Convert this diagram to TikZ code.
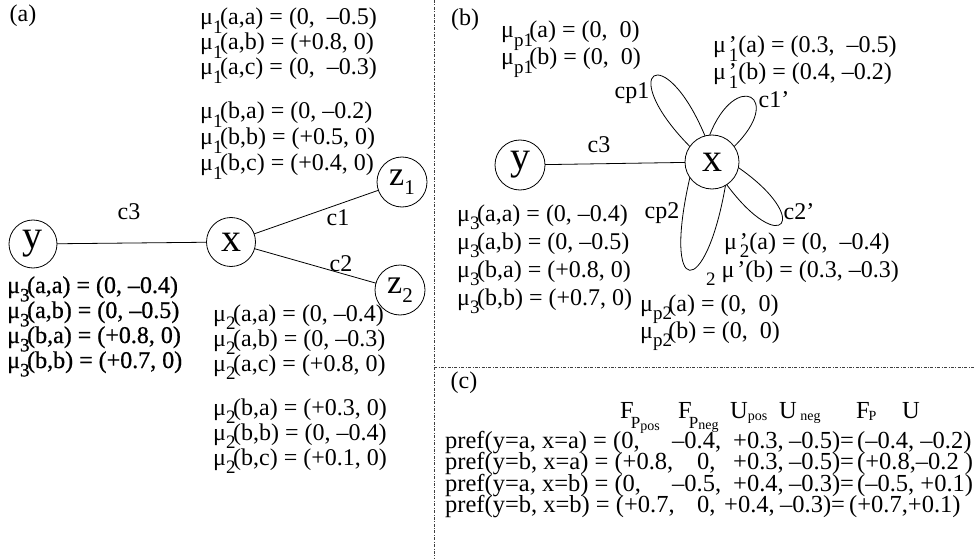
\documentclass[tikz,border=0pt]{standalone}
\usepackage{fontspec}
\setmainfont{Liberation Serif}
\newfontfamily\heavy[FakeBold=0.7]{Liberation Serif}
\newcommand\lo[1]{\raisebox{-0.35em}{\fontsize{19}{19}\selectfont #1}}
\newcommand\mub{μ\kern0.12em\rlap{’}}
\begin{document}
\begin{tikzpicture}[x=1pt,y=-1pt,
  circ/.style={draw,circle,inner sep=0pt,outer sep=0pt,line width=0.8pt},
  big/.style={font=\fontsize{40}{40}\selectfont},
  txt/.style={anchor=base west,inner sep=0pt,font=\fontsize{24}{28}\selectfont},
  lbl/.style={inner sep=0pt,font=\fontsize{24}{28}\selectfont},
  ctxt/.style={anchor=base west,inner sep=0pt,font=\fontsize{24.5}{26}\selectfont},
  conn/.style={line width=0.8pt},
  sep/.style={dash pattern=on 3pt off 1.5pt on 0.8pt off 1.5pt,line width=0.6pt,black!75}]
\useasboundingbox (0,0) rectangle (975,559);
% separators
\coordinate (vt) at (434,0); \coordinate (vb) at (434,559);
\coordinate (hl) at (434,367); \coordinate (hr) at (975,367);
\draw[sep] (vt) -- (vb);
\draw[sep] (hl) -- (hr);
% ---------------- panel (a)
\node[lbl] (la) at (23,16) {(a)};
\node[circ,minimum size=48pt,big] (ya) at (33,244) {y};
\node[circ,minimum size=49pt,big] (xa) at (231,242) {x};
\node[circ,minimum size=50pt,font=\fontsize{34}{34}\selectfont] (z1) at (402,182) {z\raisebox{-0.25em}{\fontsize{21}{21}\selectfont 1}};
\node[circ,minimum size=50pt,font=\fontsize{34}{34}\selectfont] (z2) at (400,290) {z\raisebox{-0.25em}{\fontsize{21}{21}\selectfont 2}};
\draw[conn] (ya) -- (xa);
\draw[conn] (xa) -- (z1);
\draw[conn] (xa) -- (z2);
\node[lbl] (c3a) at (129,212) {c3};
\node[lbl] (c1a) at (338,218) {c1};
\node[lbl] (c2a) at (341,264) {c2};
% mu1
\node[txt] (m1a) at (200,25) {μ\lo{1}\kern-0.1em(a,a) = (0,\ \ –0.5)};
\node[txt] (m1b) at (200,50) {μ\lo{1}\kern-0.1em(a,b) = (+0.8, 0)};
\node[txt] (m1c) at (200,75) {μ\lo{1}\kern-0.1em(a,c) = (0,\ \ –0.3)};
\node[txt] (m1d) at (200,119) {μ\lo{1}\kern-0.1em(b,a) = (0, –0.2)};
\node[txt] (m1e) at (200,145) {μ\lo{1}\kern-0.1em(b,b) = (+0.5, 0)};
\node[txt] (m1f) at (200,171) {μ\lo{1}\kern-0.1em(b,c) = (+0.4, 0)};
% mu3 (a)
\node[txt,font=\fontsize{24}{28}\heavy] (m3a) at (7,293) {μ\lo{3}\kern-0.1em(a,a) = (0, –0.4)};
\node[txt,font=\fontsize{24}{28}\heavy] (m3b) at (7,318) {μ\lo{3}\kern-0.1em(a,b) = (0, –0.5)};
\node[txt,font=\fontsize{24}{28}\heavy] (m3c) at (7,343) {μ\lo{3}\kern-0.1em(b,a) = (+0.8, 0)};
\node[txt,font=\fontsize{24}{28}\heavy] (m3d) at (7,368) {μ\lo{3}\kern-0.1em(b,b) = (+0.7, 0)};
% mu2
\node[txt] (m2a) at (213,321) {μ\lo{2}\kern-0.1em(a,a) = (0, –0.4)};
\node[txt] (m2b) at (213,346) {μ\lo{2}\kern-0.1em(a,b) = (0, –0.3)};
\node[txt] (m2c) at (213,371) {μ\lo{2}\kern-0.1em(a,c) = (+0.8, 0)};
\node[txt] (m2d) at (213,415) {μ\lo{2}\kern-0.1em(b,a) = (+0.3, 0)};
\node[txt] (m2e) at (213,440) {μ\lo{2}\kern-0.1em(b,b) = (0, –0.4)};
\node[txt] (m2f) at (213,465) {μ\lo{2}\kern-0.1em(b,c) = (+0.1, 0)};
% ---------------- panel (b)
\node[lbl] (lb) at (465,20) {(b)};
\node[circ,minimum size=50pt,big] (yb) at (520,165) {y};
\node[circ,minimum size=54pt,big] (xb) at (712,162) {x};
\draw[conn] (yb) -- (xb);
\draw[conn] (xb.145) .. controls +(-75,-76) and +(-41,-98) .. (xb.105);
\draw[conn] (xb.95) .. controls +(26,-66) and +(51,-50) .. (xb.35);
\draw[conn] (xb.-12) .. controls +(75,52) and +(55,74) .. (xb.-57);
\draw[conn] (xb.215) .. controls +(-28,122) and +(-20,115) .. (xb.-60);
\node[lbl] (c3b) at (599,145) {c3};
\node[lbl] (cp1) at (632,93) {cp1};
\node[lbl] (c1p) at (774,100) {c1’};
\node[lbl] (c2p) at (799,212) {c2’};
\node[lbl] (cp2) at (662,213) {cp2};
\node[txt] (mp1a) at (501,38) {μ\lo{p1}\kern-0.15em(a) = (0,\ \ 0)};
\node[txt] (mp1b) at (501,65) {μ\lo{p1}\kern-0.15em(b) = (0,\ \ 0)};
\node[txt] (mq1a) at (713,53) {\mub\lo{1}(a) = (0.3,\ \ –0.5)};
\node[txt] (mq1b) at (713,80) {\mub\lo{1}(b) = (0.4, –0.2)};
\node[txt] (mb3a) at (457,221) {μ\lo{3}\kern-0.1em(a,a) = (0, –0.4)};
\node[txt] (mb3b) at (457,249) {μ\lo{3}\kern-0.1em(a,b) = (0, –0.5)};
\node[txt] (mb3c) at (457,277) {μ\lo{3}\kern-0.1em(b,a) = (+0.8, 0)};
\node[txt] (mb3d) at (457,305) {μ\lo{3}\kern-0.1em(b,b) = (+0.7, 0)};
\node[txt] (mq2a) at (724,249) {\mub\lo{2}(a) = (0,\ \ –0.4)};
\node[txt] (mq2b) at (706,277) {\lo{2}\ μ\kern0.12em’(b) = (0.3, –0.3)};
\node[txt] (mp2a) at (640,311) {μ\lo{p2}\kern-0.15em(a) = (0,\ \ 0)};
\node[txt] (mp2b) at (640,338) {μ\lo{p2}\kern-0.15em(b) = (0,\ \ 0)};
% ---------------- panel (c)
\node[lbl] (lc) at (464,383) {(c)};
\node[ctxt] (h1) at (620,418) {F\kern-0.12em\raisebox{-10pt}{\fontsize{17}{17}\selectfont P\raisebox{-2pt}{\fontsize{14}{14}\selectfont pos}}};
\node[ctxt] (h2) at (678,418) {F\kern-0.12em\raisebox{-10pt}{\fontsize{17}{17}\selectfont P\raisebox{-1pt}{\fontsize{14}{14}\selectfont neg}}};
\node[ctxt] (h3) at (730,418) {U\raisebox{-2pt}{\fontsize{14}{14}\selectfont pos}};
\node[ctxt] (h4) at (779,418) {U\raisebox{-2pt}{\fontsize{14}{14}\selectfont\ neg}};
\node[ctxt] (h5) at (856,418) {F\kern-0.05em\raisebox{-2pt}{\fontsize{14}{14}\selectfont P}};
\node[ctxt] (h6) at (902,418) {U};
% rows
\node[ctxt] (r1a) at (445,448) {pref(y=a, x=a) = (0,};
\node[ctxt] (r1b) at (672,448) {–0.4,};
\node[ctxt] (r1c) at (733,448) {+0.3,};
\node[ctxt] (r1d) at (789,448) {–0.5)=};
\node[ctxt] (r1e) at (857,448) {(–0.4, –0.2)};
\node[ctxt] (r2a) at (445,469.5) {pref(y=b, x=a) = (+0.8,};
\node[ctxt] (r2b) at (697,469.5) {0,};
\node[ctxt] (r2c) at (733,469.5) {+0.3,};
\node[ctxt] (r2d) at (789,469.5) {–0.5)=};
\node[ctxt] (r2e) at (857,469.5) {(+0.8,–0.2 )};
\node[ctxt] (r3a) at (445,491) {pref(y=a, x=b) = (0,};
\node[ctxt] (r3b) at (672,491) {–0.5,};
\node[ctxt] (r3c) at (733,491) {+0.4,};
\node[ctxt] (r3d) at (789,491) {–0.3)=};
\node[ctxt] (r3e) at (857,491) {(–0.5, +0.1)};
\node[ctxt] (r4a) at (445,512.5) {pref(y=b, x=b) = (+0.7,};
\node[ctxt] (r4b) at (697,512.5) {0,};
\node[ctxt] (r4c) at (724,512.5) {+0.4,};
\node[ctxt] (r4d) at (780,512.5) {–0.3)=};
\node[ctxt] (r4e) at (849,512.5) {(+0.7,+0.1)};
\end{tikzpicture}
\end{document}
